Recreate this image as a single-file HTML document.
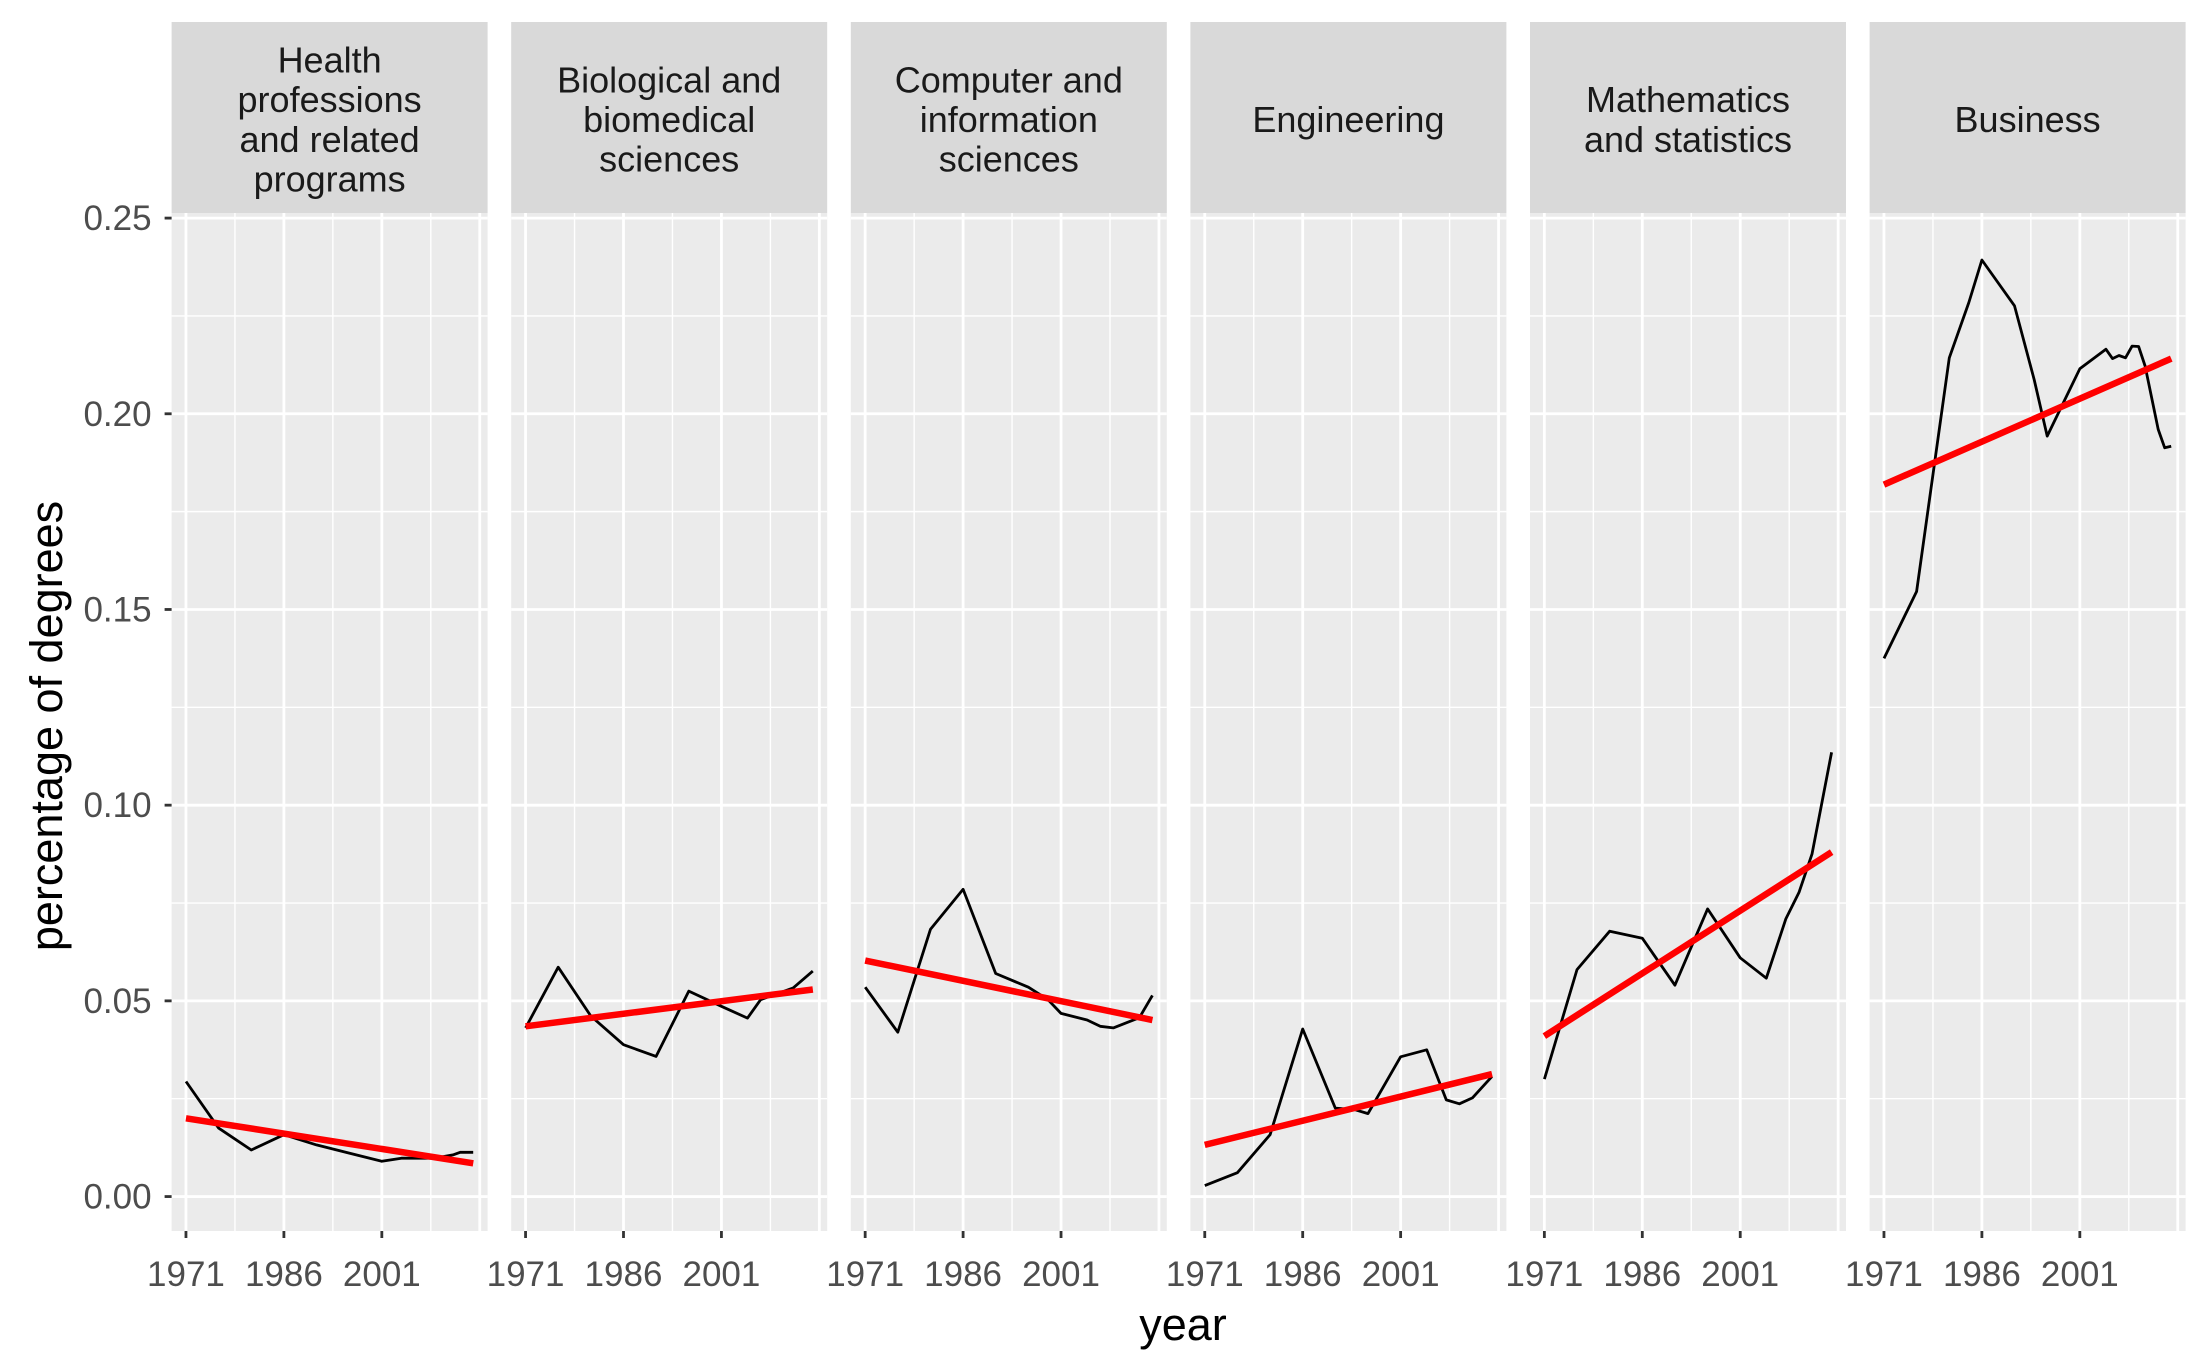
<!DOCTYPE html>
<html><head><meta charset="utf-8"><style>
html,body{margin:0;padding:0;background:#fff;}
svg{display:block;font-family:"Liberation Sans",Arial,sans-serif;}
</style></head><body>
<svg id="chart" width="2210" height="1365" viewBox="0 0 2210 1365" xmlns="http://www.w3.org/2000/svg">
<rect x="0" y="0" width="2210" height="1365" fill="#fff"/>
<g id="panels"></g>
<text x="1183" y="1340" font-size="45" text-anchor="middle" fill="#000">year</text>
<text transform="translate(62,726) rotate(-90)" font-size="45" text-anchor="middle" fill="#000">percentage of degrees</text>
</svg>
<script>
const facetTitles = [
  ["Health","professions","and related","programs"],
  ["Biological and","biomedical","sciences"],
  ["Computer and","information","sciences"],
  ["Engineering"],
  ["Mathematics","and statistics"],
  ["Business"]
];
const healthYears = [1971,1976,1981,1986,1991,1996,2001,2004,2009,2012,2013,2015];
const healthVals  = [0.0294,0.0175,0.0119,0.0158,0.0132,0.0111,0.0090,0.0098,0.0098,0.0107,0.0113,0.0113];
const bioYears = [1971,1976,1981,1986,1991,1996,2001,2005,2007,2012,2015];
const bioVals  = [0.0431,0.0586,0.0461,0.0388,0.0358,0.0525,0.0486,0.0456,0.0503,0.0533,0.0576];
const compYears = [1971,1976,1981,1986,1991,1996,1999,2001,2005,2007,2009,2011,2013,2015];
const compVals  = [0.0535,0.0420,0.0683,0.0785,0.0570,0.0535,0.0503,0.0468,0.0451,0.0435,0.0431,0.0444,0.0457,0.0514];
const engYears = [1971,1976,1981,1986,1991,1994,1996,2001,2005,2008,2010,2012,2015];
const engVals  = [0.0028,0.0061,0.0158,0.0428,0.0226,0.0222,0.0212,0.0357,0.0375,0.0247,0.0237,0.0252,0.0307];
const mathYears = [1971,1976,1981,1986,1991,1996,2001,2005,2008,2010,2012,2015];
const mathVals  = [0.0300,0.0580,0.0678,0.0660,0.0540,0.0735,0.0610,0.0558,0.0710,0.0777,0.0875,0.1135];
const busYears = [1971,1976,1981,1984,1986,1991,1994,1996,2001,2005,2006,2007,2008,2009,2010,2011,2013,2014,2015];
const busVals  = [0.1375,0.1546,0.2143,0.2284,0.2393,0.2276,0.2088,0.1943,0.2115,0.2165,0.2141,0.2149,0.2143,0.2173,0.2172,0.2122,0.1960,0.1913,0.1917];
const fitStart = [0.0200,0.0435,0.0603,0.0132,0.0410,0.1819];
const fitEnd   = [0.0085,0.0529,0.0451,0.0313,0.0880,0.2141];
const fitYears = [1971,2015];
const yTicks = [0,0.05,0.10,0.15,0.20,0.25];
const yTickLabels = ["0.00","0.05","0.10","0.15","0.20","0.25"];
const xTicks = [1971,1986,2001,2016];
const xTickLabels = ["1971","1986","2001",""];

const seriesYears = [healthYears,bioYears,compYears,engYears,mathYears,busYears];
const seriesVals = [healthVals,bioVals,compVals,engVals,mathVals,busVals];
const NS="http://www.w3.org/2000/svg";
const panelsG=document.getElementById('panels');
const X0=1968.8, X1=2017.2, Y0=-0.0088, Y1=0.2513;
const panelW=316, step=339.6, firstLeft=171.6, panelTop=213, panelBottom=1231;
function el(t,a,p){const e=document.createElementNS(NS,t);for(const k in a)e.setAttribute(k,a[k]);(p||panelsG).appendChild(e);return e;}
function yScale(v){return panelBottom-(v-Y0)/(Y1-Y0)*(panelBottom-panelTop);}
for(let i=0;i<6;i++){
  const left=firstLeft+i*step;
  const xs=v=>left+(v-X0)/(X1-X0)*panelW;
  const pg=el('g',{});
  
  
  const bg=el('rect',{x:left,y:panelTop,width:panelW,height:panelBottom-panelTop,fill:'#EBEBEB'},pg);
  
  
  for(let k=0;k<yTicks.length-1;k++){const v=(yTicks[k]+yTicks[k+1])/2;
    const l=el('line',{x1:left,x2:left+panelW,y1:yScale(v),y2:yScale(v),stroke:'#fff','stroke-width':1.4},pg);
    
    }
  for(let k=0;k<xTicks.length-1;k++){const v=(xTicks[k]+xTicks[k+1])/2;
    const l=el('line',{x1:xs(v),x2:xs(v),y1:panelTop,y2:panelBottom,stroke:'#fff','stroke-width':1.4},pg);
    
    }
  yTicks.forEach(v=>{const l=el('line',{x1:left,x2:left+panelW,y1:yScale(v),y2:yScale(v),stroke:'#fff','stroke-width':2.8},pg);
    
    });
  xTicks.forEach((v,k)=>{const l=el('line',{x1:xs(v),x2:xs(v),y1:panelTop,y2:panelBottom,stroke:'#fff','stroke-width':2.8},pg);
    
    
    if(xTickLabels[k]!==""){
      const t=el('line',{x1:xs(v),x2:xs(v),y1:panelBottom,y2:panelBottom+7,stroke:'#333','stroke-width':2.8},pg);
      
      
      const tx=el('text',{x:xs(v),y:panelBottom+55,'font-size':35,'text-anchor':'middle',fill:'#4D4D4D'},pg);
      tx.textContent=xTickLabels[k];
      
      }
  });
  const st=el('rect',{x:left,y:22,width:panelW,height:191,fill:'#D9D9D9'},pg);
  
  
  const lines=facetTitles[i], lh=39.6, cy=120;
  lines.forEach((s,j)=>{const t=el('text',{x:left+panelW/2,y:cy+(j-(lines.length-1)/2)*lh+12,'font-size':36,'text-anchor':'middle',fill:'#1A1A1A'},pg);
    t.textContent=s;
    
    });
  const ys=seriesYears[i], vs=seriesVals[i];
  const d=ys.map((y,k)=>(k?'L':'M')+xs(y).toFixed(1)+','+yScale(vs[k]).toFixed(1)).join(' ');
  const p=el('path',{d:d,fill:'none',stroke:'#000','stroke-width':2.8,'stroke-linejoin':'round'},pg);
  
  
  const f=el('line',{x1:xs(fitYears[0]),y1:yScale(fitStart[i]),x2:xs(fitYears[1]),y2:yScale(fitEnd[i]),stroke:'#FF0000','stroke-width':6.5},pg);
  
  
  if(i===0){
    yTicks.forEach((v,k)=>{
      const t=el('line',{x1:left-7,x2:left,y1:yScale(v),y2:yScale(v),stroke:'#333','stroke-width':2.8},pg);
      
      
      const tx=el('text',{x:left-20,y:yScale(v)+12,'font-size':35,'text-anchor':'end',fill:'#4D4D4D'},pg);
      tx.textContent=yTickLabels[k];
      
      
    });
  }
}
</script>
</body></html>
